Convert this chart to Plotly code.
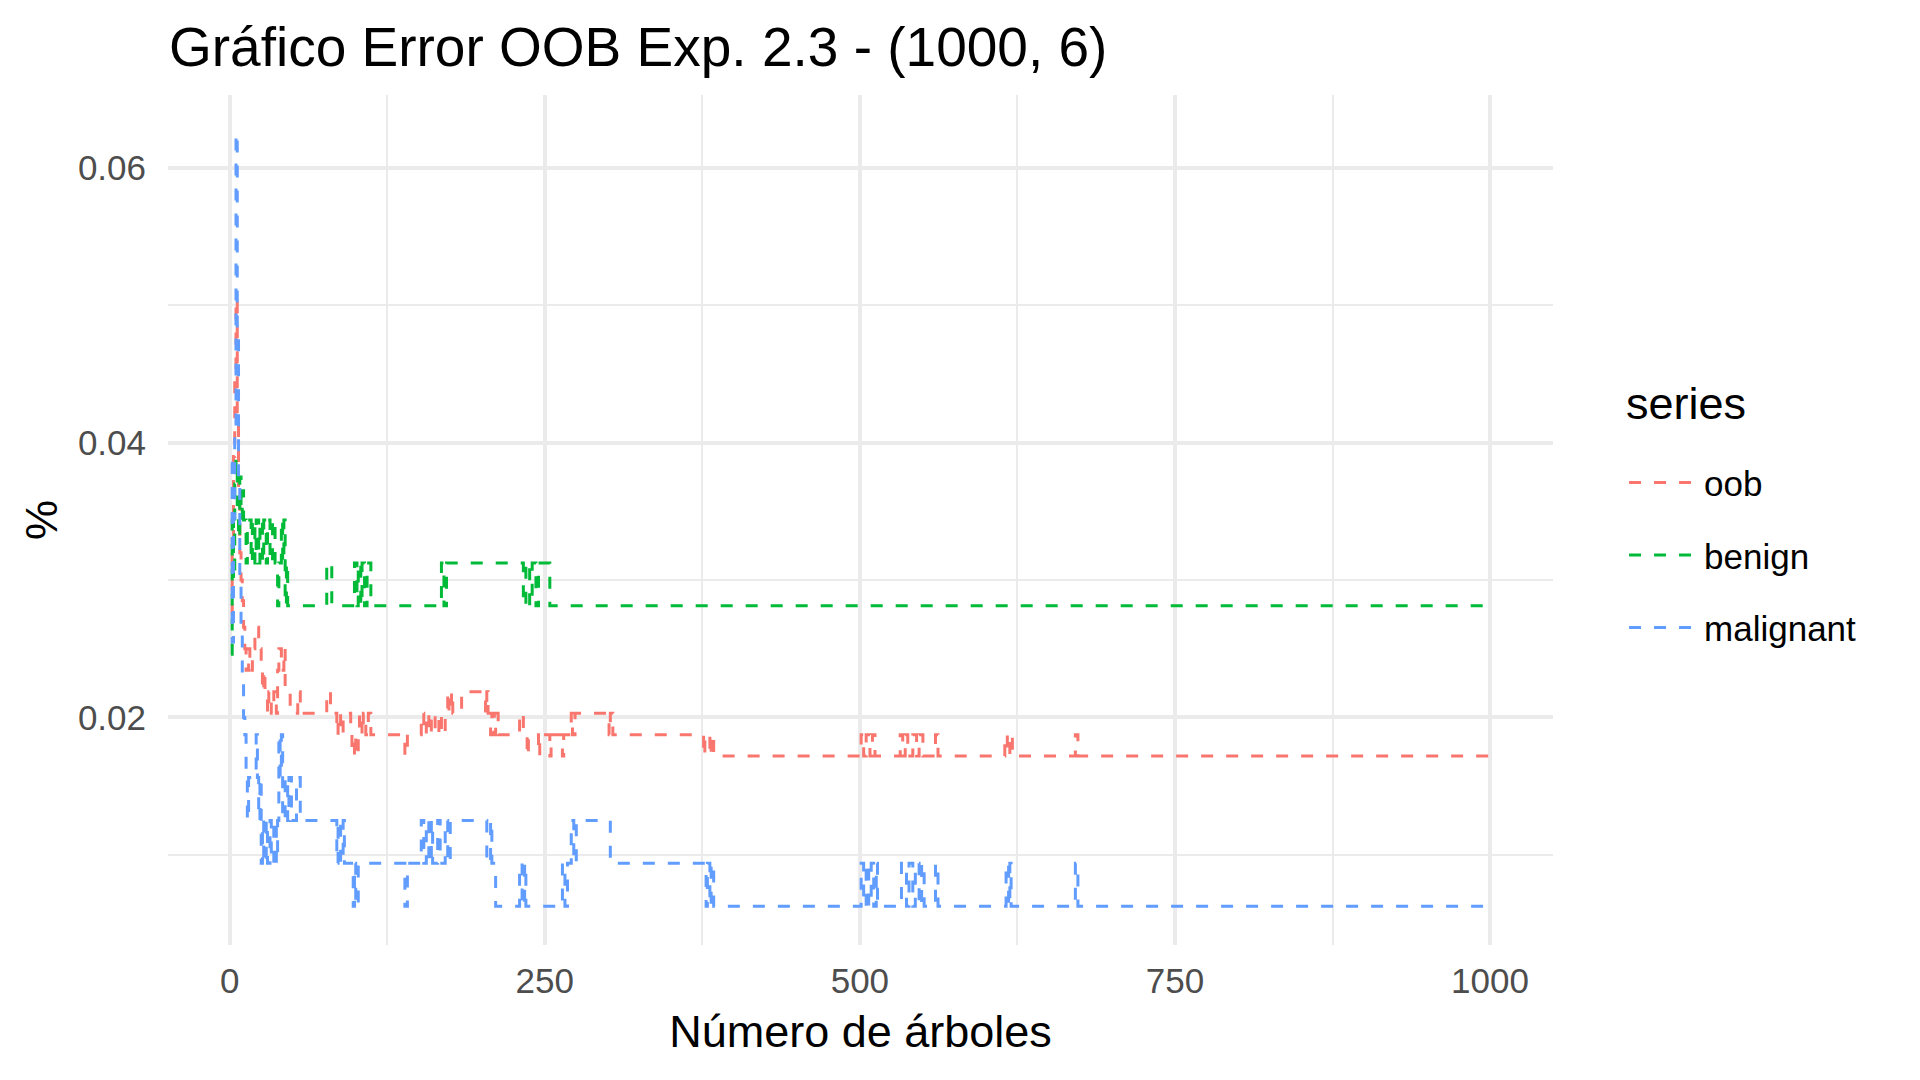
import plotly.graph_objects as go

# ---- data: step change points (tree number, error rate) ----
oob_trees = [1, 2, 3, 4, 5, 6, 7, 8, 9, 10, 11, 12, 13, 15, 16, 18, 20, 23, 25, 26,
             27, 28, 30, 31, 33, 35, 37, 38, 39, 41, 43, 44, 48, 54, 56, 77, 80, 85, 86, 88,
             90, 96, 97, 99, 100, 102, 103, 105, 106, 108, 110, 112, 139, 141, 152, 154, 156, 158, 160, 163,
             166, 168, 171, 173, 174, 176, 177, 184, 203, 204, 205, 207, 208, 210, 211, 213, 230, 233, 236, 237,
             245, 246, 254, 255, 264, 265, 271, 272, 274, 301, 302, 304,
             376, 377, 381, 382, 384, 501, 503, 505, 508, 510, 512, 532, 534, 536, 538, 542, 545, 547, 550, 560,
             562, 615, 617, 619, 621, 671, 673, 1000]
oob_err = [0.0275, 0.0330, 0.0390, 0.0450, 0.0505, 0.0420, 0.0360, 0.0320, 0.0300, 0.0285, 0.02656, 0.02500, 0.02344, 0.02500, 0.02344, 0.02500, 0.02656, 0.02500, 0.02344, 0.02188,
           0.02344, 0.02188, 0.02031, 0.02188, 0.02031, 0.02188, 0.02031, 0.02344, 0.02500, 0.02344, 0.02500, 0.02188, 0.02031, 0.02188, 0.02031, 0.02188, 0.02031, 0.01875, 0.02031, 0.01875,
           0.02031, 0.01875, 0.01719, 0.01875, 0.01719, 0.01875, 0.02031, 0.01875, 0.02031, 0.01875, 0.02031, 0.01875, 0.01719, 0.01875, 0.02031, 0.01875, 0.02031, 0.01875, 0.02031, 0.01875,
           0.02031, 0.01875, 0.02031, 0.02188, 0.02031, 0.02188, 0.02031, 0.02188, 0.02031, 0.02188, 0.02031, 0.01875, 0.02031, 0.01875, 0.02031, 0.01875, 0.02031, 0.01875, 0.01719, 0.01875,
           0.01719, 0.01875, 0.01719, 0.01875, 0.01719, 0.01875, 0.02031, 0.01875, 0.02031, 0.01875, 0.02031, 0.01875,
           0.01719, 0.01875, 0.01719, 0.01875, 0.01719, 0.01875, 0.01719, 0.01875, 0.01719, 0.01875, 0.01719, 0.01875, 0.01719, 0.01875, 0.01719, 0.01875, 0.01719, 0.01875, 0.01719, 0.01875,
           0.01719, 0.01875, 0.01719, 0.01875, 0.01719, 0.01875, 0.01719, 0.01719]

benign_trees = [1, 2, 3, 4, 5, 6, 7, 8, 9, 10, 11, 13, 14, 17, 18, 20, 21, 23, 24, 26,
                27, 29, 30, 32, 34, 36, 38, 39, 41, 42, 43, 44, 45, 46, 77, 81, 99, 101, 102, 104,
                105, 107, 109, 112, 168, 170, 172, 233, 235, 238, 240, 243, 245, 254, 1000]
benign_err = [0.0246, 0.0350, 0.0300, 0.0370, 0.0388, 0.0355, 0.0330, 0.0375, 0.0345, 0.0365, 0.03438, 0.03125, 0.03438, 0.03125, 0.03438, 0.03125, 0.03438, 0.03125, 0.03438, 0.03125,
              0.03438, 0.03125, 0.03438, 0.03125, 0.03438, 0.03125, 0.02813, 0.03125, 0.03438, 0.03125, 0.03438, 0.02813, 0.03125, 0.02813, 0.03125, 0.02813, 0.03125, 0.02813, 0.03125, 0.02813,
              0.03125, 0.02813, 0.03125, 0.02813, 0.03125, 0.02813, 0.03125, 0.02813, 0.03125, 0.02813, 0.03125, 0.02813, 0.03125, 0.02813, 0.02813]

malignant_trees = [1, 2, 3, 4, 5, 6, 7, 8, 9, 10, 11, 12, 13, 14, 15, 21, 22, 23, 24, 25,
                   26, 27, 29, 30, 32, 33, 35, 37, 38, 39, 40, 41, 42, 44, 46, 47, 49, 53, 56, 85,
                   86, 88, 90, 91, 98, 99, 100, 102, 139, 141, 152, 154, 156, 158, 160, 161, 165, 167, 171, 173,
                   175, 204, 207, 208, 211, 230, 232, 234, 235, 264, 266, 268, 271, 273, 275, 302, 378, 379, 381, 382,
                   384, 501, 503, 505, 507, 509, 511, 513, 514, 533, 537, 539, 542, 544, 547, 549, 551, 560, 562, 616,
                   618, 619, 620, 671, 673, 1000]
malignant_err = [0.0385, 0.0255, 0.0345, 0.0410, 0.0625, 0.0480, 0.0370, 0.0300, 0.0265, 0.0230, 0.0200, 0.01875, 0.01563, 0.01250, 0.01563, 0.01875, 0.01563, 0.01250, 0.01563, 0.00938,
                 0.01250, 0.00938, 0.01250, 0.00938, 0.01250, 0.00938, 0.01250, 0.00938, 0.01250, 0.01875, 0.01563, 0.01875, 0.01250, 0.01563, 0.01250, 0.01563, 0.01250, 0.01563, 0.01250, 0.00938,
                 0.01250, 0.00938, 0.01250, 0.00938, 0.00625, 0.00938, 0.00625, 0.00938, 0.00625, 0.00938, 0.01250, 0.00938, 0.01250, 0.00938, 0.01250, 0.00938, 0.01250, 0.00938, 0.01250, 0.00938,
                 0.01250, 0.00938, 0.01250, 0.00938, 0.00625, 0.00938, 0.00625, 0.00938, 0.00625, 0.00938, 0.00625, 0.00938, 0.01250, 0.00938, 0.01250, 0.00938, 0.00625, 0.00938, 0.00625, 0.00938,
                 0.00625, 0.00938, 0.00625, 0.00938, 0.00625, 0.00938, 0.00625, 0.00938, 0.00625, 0.00938, 0.00625, 0.00938, 0.00625, 0.00938, 0.00625, 0.00938, 0.00625, 0.00938, 0.00625, 0.00938,
                 0.00625, 0.00938, 0.00625, 0.00938, 0.00625, 0.00625]

series_names = ["oob", "benign", "malignant"]
series_colors = ["#F8766D", "#00BA38", "#619CFF"]

x_ticks = [0, 250, 500, 750, 1000]
y_ticks = [0.02, 0.04, 0.06]
y_tick_labels = ["0.02", "0.04", "0.06"]

FONT = "Liberation Sans, Arial, Helvetica, sans-serif"

fig = go.Figure()
for name, xs, ys, col in zip(series_names,
                             [oob_trees, benign_trees, malignant_trees],
                             [oob_err, benign_err, malignant_err],
                             series_colors):
    fig.add_trace(go.Scatter(
        x=xs, y=ys, mode="lines", name=name, legendgroup=name,
        line=dict(shape="hv", color=col, width=3, dash="12px,13px"),
    ))

grid = "#EBEBEB"
fig.update_layout(
    width=1920, height=1080,
    paper_bgcolor="white", plot_bgcolor="white",
    margin=dict(l=160, r=375, t=87, b=143),
    font=dict(family=FONT, color="black"),
    title=dict(text="Gráfico Error OOB Exp. 2.3 - (1000, 6)", font=dict(size=55, color="black"),
               x=161 / 1920, xanchor="left", xref="container", y=1 - 38.5 / 1080, yanchor="middle", yref="container"),
    showlegend=True,
    legend=dict(font=dict(size=35), x=1.0513, y=0.5785, xanchor="left", yanchor="top",
                tracegroupgap=24, itemwidth=70, bgcolor="rgba(0,0,0,0)"),
    annotations=[dict(text="series", xref="paper", yref="paper", x=1.0513, y=0.6365,
                      xanchor="left", yanchor="middle", showarrow=False, font=dict(size=45, color="black"))],
)
fig.update_xaxes(
    range=[-48.95, 1049.95], tickvals=x_ticks, showgrid=True, gridcolor=grid, gridwidth=3.5,
    minor=dict(dtick=125, tick0=0, showgrid=True, gridcolor=grid, gridwidth=1.8),
    zeroline=False, showline=False, ticks="outside", ticklen=5, tickcolor="rgba(0,0,0,0)",
    tickfont=dict(size=35, color="#4D4D4D"),
    title=dict(text="Número de árboles", font=dict(size=45, color="black"), standoff=16),
)
fig.update_yaxes(
    range=[0.0034375, 0.0653125], tickvals=y_ticks, ticktext=y_tick_labels, showgrid=True, gridcolor=grid, gridwidth=3.5,
    minor=dict(dtick=0.01, tick0=0, showgrid=True, gridcolor=grid, gridwidth=1.8),
    zeroline=False, showline=False, ticks="outside", ticklen=14, tickcolor="rgba(0,0,0,0)",
    tickfont=dict(size=35, color="#4D4D4D"),
    title=dict(text="%", font=dict(size=45, color="black"), standoff=6),
)

fig.write_html("out.html")
